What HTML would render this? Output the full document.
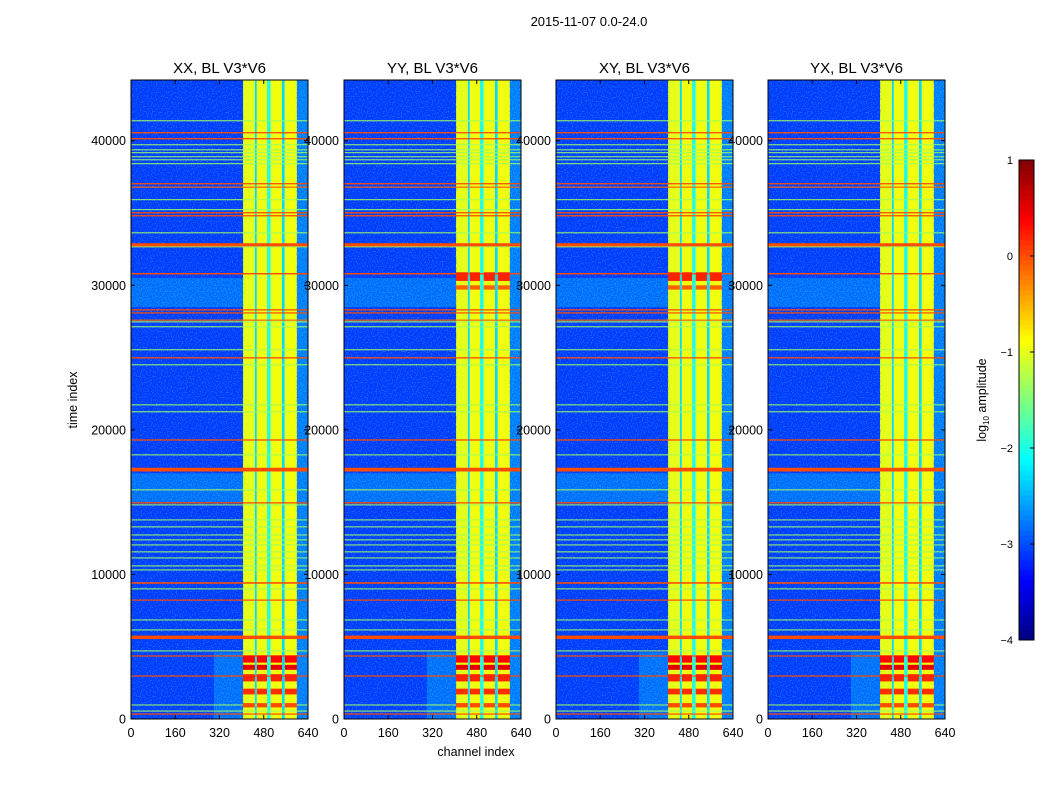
<!DOCTYPE html>
<html><head><meta charset="utf-8"><style>
body{margin:0;background:#fff;}
svg text{font-family:"Liberation Sans",sans-serif;}
</style></head><body>
<svg id="fig" width="1050" height="800" viewBox="0 0 1050 800" xmlns="http://www.w3.org/2000/svg">
<defs>
<filter id="noiseDark" x="0" y="0" width="100%" height="100%">
<feTurbulence type="fractalNoise" baseFrequency="0.8" numOctaves="1" seed="3" result="t"/>
<feColorMatrix in="t" type="matrix" values="0 0 0 0 0  0 0 0 0 0.05  0 0 0 0 0.85  0 0 0 2.2 -0.9"/>
</filter>
<filter id="noiseLight" x="0" y="0" width="100%" height="100%">
<feTurbulence type="fractalNoise" baseFrequency="0.8" numOctaves="1" seed="11" result="t"/>
<feColorMatrix in="t" type="matrix" values="0 0 0 0 0.05  0 0 0 0 0.7  0 0 0 0 1  0 0 0 2.2 -1.05"/>
</filter>
</defs>
<text x="589" y="26" font-size="13" text-anchor="middle">2015-11-07 0.0-24.0</text>
<g id="panels"></g>
<g id="cbar"></g>
</svg>
<script>
// ---- data ----
const panelTitles = ["XX, BL V3*V6","YY, BL V3*V6","XY, BL V3*V6","YX, BL V3*V6"];
const xTicks = [0,160,320,480,640];
const yTicks = [0,10000,20000,30000,40000];
const cbTicks = [1,0,-1,-2,-3,-4];
const cbLabels = ["1","0","\u22121","\u22122","\u22123","\u22124"];
// channel bands: start, end, log10 amplitude
const chanStart = [0,405,448,455,492,505,546,556,600];
const chanEnd   = [405,448,455,492,505,546,556,600,640];
const chanLevel = [-3.1,-1.0,-2.3,-0.95,-2.0,-0.95,-2.3,-0.95,-2.7];
// broad time bands across low channels
const bandStart = [15000,28500,0];
const bandEnd   = [17000,30500,4600];
const bandLevel = [-2.3,-2.3,-2.3];
const bandC0 = [0,0,300];
// horizontal RFI lines
const orangeT = [40553,40138,37024,36800,35017,34810,32800,30800,28300,28100,27600,24980,19300,17250,14950,9410,8235,5650,4360,2975,346];
const orangeW = [90,90,90,60,90,90,220,100,90,60,60,90,90,260,90,110,60,240,80,80,80];
const orangeL = [0,0,0,-0.1,0,0,0,0,0,0,-0.1,0,0,0,0,0,0,0,0,0,0];
const greenT = [41380,39720,39370,39170,38890,38680,38410,35920,35230,33630,32660,27470,27130,25540,24500,21730,21250,18270,15850,14810,13770,13290,12730,12390,12040,11560,11140,10590,10310,9000,6850,6160,4710,970,550];
const greenW = 70;
const greenL = -1.35;
// red blocks in bottom rows
const redStart = [3900,3400,2600,1700,800];
const redEnd   = [4400,3750,3100,2100,1100];
const redLevel = [0.35,0.5,0.2,0.15,0.0];
// red blocks around t~30000 in YY & XY
const midPanels = [1,2];
const midStart = [29700,30300];
const midEnd   = [30000,30900];
const midLevel = [-0.1,0.2];
const vmin=-4, vmax=1, tMax=44200;

function jet(v){
  const n=Math.max(0,Math.min(1,(v-vmin)/(vmax-vmin)));
  const c=x=>Math.round(255*Math.max(0,Math.min(1,1.5-Math.abs(x))));
  return `rgb(${c(4*n-3)},${c(4*n-2)},${c(4*n-1)})`;
}
const NS="http://www.w3.org/2000/svg";
function mk(tag,attrs,parent){const e=document.createElementNS(NS,tag);for(const k in attrs)e.setAttribute(k,attrs[k]);parent.appendChild(e);return e;}
const panelX=[131,344,556,768], pw=177, pTop=80, pBot=719;
const root=document.getElementById('panels');
panelX.forEach((px,p)=>{
  const X=c=>px+c/640*pw;
  const Y=t=>pBot-t/tMax*(pBot-pTop);
  const g=mk('g',{},root);
  
  
  const hm=mk('g',{},g);
  
  
  chanStart.forEach((s,i)=>{
    const r=mk('rect',{x:X(s),y:pTop,width:X(chanEnd[i])-X(s),height:pBot-pTop,fill:jet(chanLevel[i])},hm);
    
    
  });
  bandStart.forEach((s,i)=>{
    const r=mk('rect',{x:X(bandC0[i]),y:Y(bandEnd[i]),width:X(405)-X(bandC0[i]),height:Y(s)-Y(bandEnd[i]),fill:jet(bandLevel[i]),opacity:0.4},hm);
    
    
  });
  [[0,405],[600,640]].forEach(rg=>{
    mk('rect',{x:X(rg[0]),y:pTop,width:X(rg[1])-X(rg[0]),height:pBot-pTop,filter:'url(#noiseDark)',opacity:0.8},hm);
    mk('rect',{x:X(rg[0]),y:pTop,width:X(rg[1])-X(rg[0]),height:pBot-pTop,filter:'url(#noiseLight)',opacity:0.6},hm);
  });
  greenT.forEach(t=>{
    const r=mk('rect',{x:px,y:Y(t+greenW/2),width:pw,height:Math.max(1,Y(t-greenW/2)-Y(t+greenW/2)),fill:jet(greenL)},hm);
    
    
  });
  orangeT.forEach((t,i)=>{
    const r=mk('rect',{x:px,y:Y(t+orangeW[i]/2),width:pw,height:Math.max(1.2,Y(t-orangeW[i]/2)-Y(t+orangeW[i]/2)),fill:jet(orangeL[i])},hm);
    
    
  });
  const hot=[[405,448],[455,492],[505,546],[556,600]];
  redStart.forEach((s,i)=>hot.forEach(h=>{
    const r=mk('rect',{x:X(h[0]),y:Y(redEnd[i]),width:X(h[1])-X(h[0]),height:Y(s)-Y(redEnd[i]),fill:jet(redLevel[i])},hm);
    
    
  }));
  if(midPanels.includes(p)) midStart.forEach((s,i)=>hot.forEach(h=>{
    const r=mk('rect',{x:X(h[0]),y:Y(midEnd[i]),width:X(h[1])-X(h[0]),height:Y(s)-Y(midEnd[i]),fill:jet(midLevel[i])},hm);
    
    
  }));
  mk('rect',{x:px,y:pTop,width:pw,height:pBot-pTop,fill:'none',stroke:'#000','stroke-width':1},g);
  const tt=mk('text',{x:px+pw/2,y:73,'font-size':15,'text-anchor':'middle'},g);
  tt.textContent=panelTitles[p];
  
  
  xTicks.forEach(v=>{
    mk('line',{x1:X(v),x2:X(v),y1:pBot,y2:pBot-4,stroke:'#000'},g);
    mk('line',{x1:X(v),x2:X(v),y1:pTop,y2:pTop+4,stroke:'#000'},g);
    const l=mk('text',{x:X(v),y:pBot+18,'font-size':12.5,'text-anchor':'middle'},g);
    l.textContent=v;
    
    
  });
  yTicks.forEach(v=>{
    mk('line',{x1:px,x2:px+4,y1:Y(v),y2:Y(v),stroke:'#000'},g);
    mk('line',{x1:px+pw,x2:px+pw-4,y1:Y(v),y2:Y(v),stroke:'#000'},g);
    const l=mk('text',{x:px-5,y:Y(v)+4.5,'font-size':12.5,'text-anchor':'end'},g);
    l.textContent=v;
    
    
  });
});
const xl=mk('text',{x:476,y:756,'font-size':12.5,'text-anchor':'middle'},root);
xl.textContent='channel index';


const yl=mk('text',{x:0,y:0,'font-size':12.5,'text-anchor':'middle',transform:'translate(77,400) rotate(-90)'},root);
yl.textContent='time index';


const cb=document.getElementById('cbar');


const cx=1019,cw=15,ct=160,cbm=640;
const CY=v=>cbm-(v-vmin)/(vmax-vmin)*(cbm-ct);
for(let i=0;i<96;i++){
  const v0=vmin+i*(vmax-vmin)/96, v1=vmin+(i+1)*(vmax-vmin)/96;
  mk('rect',{x:cx,y:CY(v1),width:cw,height:CY(v0)-CY(v1)+0.5,fill:jet((v0+v1)/2)},cb);
}
mk('rect',{x:cx,y:ct,width:cw,height:cbm-ct,fill:'none',stroke:'#000'},cb);
cbTicks.forEach((v,i)=>{
  mk('line',{x1:cx+cw,x2:cx+cw-4,y1:CY(v),y2:CY(v),stroke:'#000'},cb);
  const l=mk('text',{x:1013,y:CY(v)+4,'font-size':11,'text-anchor':'end'},cb);
  l.textContent=cbLabels[i];
  
  
});
const cl=mk('text',{x:0,y:0,'font-size':12.5,'text-anchor':'middle',transform:'translate(986,400) rotate(-90)'},cb);
cl.innerHTML='log<tspan font-size="8" dy="3">10</tspan><tspan dy="-3"> amplitude</tspan>';


</script>
</body></html>
